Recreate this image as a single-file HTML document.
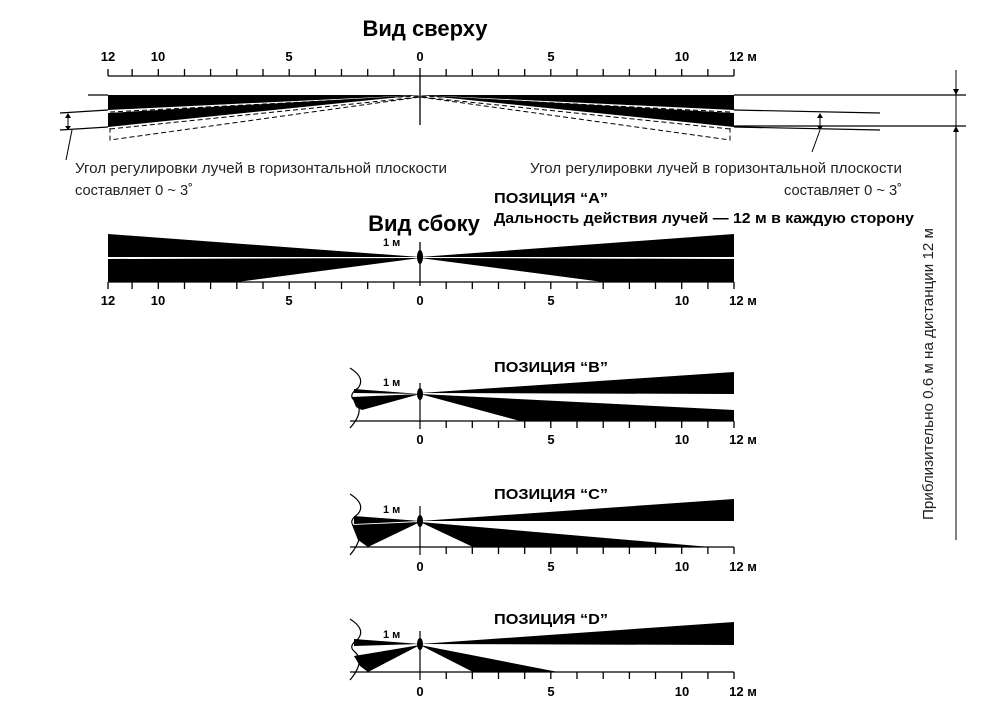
<!DOCTYPE html><html><head><meta charset="utf-8"><style>body{margin:0;background:#fff}svg{display:block}text{font-family:"Liberation Sans","DejaVu Sans",sans-serif}</style></head><body>
<svg width="994" height="720" viewBox="0 0 994 720" xmlns="http://www.w3.org/2000/svg">
<defs>
<g id="tk" stroke="#000" stroke-width="1.3">
<path d="M108 0V-7M132.1 0V-7M158.3 0V-7M184.5 0V-7M210.6 0V-7M236.8 0V-7M263 0V-7M289.2 0V-7M315.3 0V-7M341.5 0V-7M367.7 0V-7M393.8 0V-7"/>
</g>
<g id="tr" stroke="#000" stroke-width="1.3">
<path d="M446.2 0V-7M472.3 0V-7M498.5 0V-7M524.7 0V-7M550.8 0V-7M577 0V-7M603.2 0V-7M629.4 0V-7M655.5 0V-7M681.7 0V-7M707.9 0V-7M734 0V-7"/>
</g>
</defs>
<!-- Top view -->
<text x="425" y="36" font-size="22" font-weight="bold" text-anchor="middle">Вид сверху</text>
<g font-size="13" font-weight="bold" text-anchor="middle">
<text x="108" y="61">12</text><text x="158" y="61">10</text><text x="289" y="61">5</text><text x="420" y="61">0</text><text x="551" y="61">5</text><text x="682" y="61">10</text><text x="743" y="61">12 м</text>
</g>
<g transform="translate(0,76)"><use href="#tk"/><use href="#tr"/></g>
<path d="M108 76H734M420 68V125" stroke="#000" stroke-width="1.3"/>
<path d="M108 95H420L108 110Z M108 113L420 95L108 127Z M734 95H420L734 110Z M734 113L420 95L734 127Z" fill="#000"/>
<path d="M88 95H108M734 95H966M734 126H966M60 113L108 110M60 130L108 127M880 113L734 110M880 130L734 127" stroke="#000" stroke-width="1.2" fill="none"/>
<path d="M110 112L420 96M110 129L420 97L110 140V128M730 112L420 96M730 129L420 97L730 140V128" stroke="#000" stroke-width="1" stroke-dasharray="5,3" fill="none"/>
<path d="M68 114V129M820 114V129M956 70V540M72 130L66 160M820 130L812 152" stroke="#000" stroke-width="1"/>
<path d="M65 118L68 113L71 118ZM65 126L68 130L71 126ZM817 118L820 113L823 118ZM817 126L820 130L823 126ZM953 89L956 95L959 89ZM953 132L956 126L959 132Z" fill="#000"/>
<g font-size="15" fill="#222">
<text x="75" y="173" textLength="372" lengthAdjust="spacingAndGlyphs">Угол регулировки лучей в горизонтальной плоскости</text>
<text x="75" y="195" textLength="118" lengthAdjust="spacingAndGlyphs">составляет 0 ~ 3˚</text>
<text x="530" y="173" textLength="372" lengthAdjust="spacingAndGlyphs">Угол регулировки лучей в горизонтальной плоскости</text>
<text x="784" y="195" textLength="118" lengthAdjust="spacingAndGlyphs">составляет 0 ~ 3˚</text>
</g>
<text x="933" y="374" font-size="15" fill="#222" text-anchor="middle" transform="rotate(-90 933 374)" textLength="292" lengthAdjust="spacingAndGlyphs">Приблизительно 0.6 м на дистанции 12 м</text>
<!-- Position A -->
<g font-weight="bold">
<text x="494" y="203" font-size="15" textLength="114" lengthAdjust="spacingAndGlyphs">ПОЗИЦИЯ “A”</text>
<text x="494" y="223" font-size="15" textLength="420" lengthAdjust="spacingAndGlyphs">Дальность действия лучей — 12 м в каждую сторону</text>
<text x="424" y="231" font-size="22" text-anchor="middle">Вид сбоку</text>
<text x="383" y="246" font-size="11">1 м</text>
</g>
<path d="M108 234V257H420ZM108 259V282H237L420 258ZM734 234V257H420ZM734 259V282H603L420 258Z" fill="#000"/>
<path d="M108 282H734M420 242V286" stroke="#000" stroke-width="1.3"/>
<g transform="translate(0,282) scale(1,-1)"><use href="#tk"/><use href="#tr"/></g>
<ellipse cx="420" cy="257" rx="3" ry="7" fill="#000"/>
<g font-size="13" font-weight="bold" text-anchor="middle">
<text x="108" y="305">12</text><text x="158" y="305">10</text><text x="289" y="305">5</text><text x="420" y="305">0</text><text x="551" y="305">5</text><text x="682" y="305">10</text><text x="743" y="305">12 м</text>
</g>
<!-- B -->
<text x="494" y="372" font-size="15" font-weight="bold" textLength="114" lengthAdjust="spacingAndGlyphs">ПОЗИЦИЯ “B”</text>
<text x="383" y="386" font-size="11" font-weight="bold">1 м</text>
<path d="M420 393L734 372V394ZM420 394L734 410V421H520ZM420 394L354 389V393ZM420 394L352 397L356 407L362 410Z" fill="#000"/>
<path d="M350 421H734M420 383V429M350 368Q366 378 358 388Q348 395 354 400Q366 410 350 428" stroke="#000" stroke-width="1.2" fill="none"/>
<g transform="translate(0,421) scale(1,-1)"><use href="#tr"/></g>
<ellipse cx="420" cy="394" rx="3" ry="6" fill="#000"/>
<g font-size="13" font-weight="bold" text-anchor="middle"><text x="420" y="444">0</text><text x="551" y="444">5</text><text x="682" y="444">10</text><text x="743" y="444">12 м</text></g>
<!-- C -->
<text x="494" y="499" font-size="15" font-weight="bold" textLength="114" lengthAdjust="spacingAndGlyphs">ПОЗИЦИЯ “C”</text>
<text x="383" y="513" font-size="11" font-weight="bold">1 м</text>
<path d="M420 521L734 499V521ZM420 522L710 547H473ZM420 521L354 516V524ZM420 522L352 525L358 540L368 547Z" fill="#000"/>
<path d="M350 547H734M420 506V555M350 494Q366 504 358 514Q348 521 354 526Q366 536 350 555" stroke="#000" stroke-width="1.2" fill="none"/>
<g transform="translate(0,547) scale(1,-1)"><use href="#tr"/></g>
<ellipse cx="420" cy="521" rx="3" ry="6" fill="#000"/>
<g font-size="13" font-weight="bold" text-anchor="middle"><text x="420" y="571">0</text><text x="551" y="571">5</text><text x="682" y="571">10</text><text x="743" y="571">12 м</text></g>
<!-- D -->
<text x="494" y="624" font-size="15" font-weight="bold" textLength="114" lengthAdjust="spacingAndGlyphs">ПОЗИЦИЯ “D”</text>
<text x="383" y="638" font-size="11" font-weight="bold">1 м</text>
<path d="M420 644L734 622V645ZM420 645L558 672H473ZM420 644L354 639V646ZM420 645L354 656L360 666L368 672Z" fill="#000"/>
<path d="M350 672H734M420 631V680M350 619Q366 629 358 639Q348 646 354 651Q366 661 350 680" stroke="#000" stroke-width="1.2" fill="none"/>
<g transform="translate(0,672) scale(1,-1)"><use href="#tr"/></g>
<ellipse cx="420" cy="644" rx="3" ry="6" fill="#000"/>
<g font-size="13" font-weight="bold" text-anchor="middle"><text x="420" y="696">0</text><text x="551" y="696">5</text><text x="682" y="696">10</text><text x="743" y="696">12 м</text></g>
</svg>
</body></html>
